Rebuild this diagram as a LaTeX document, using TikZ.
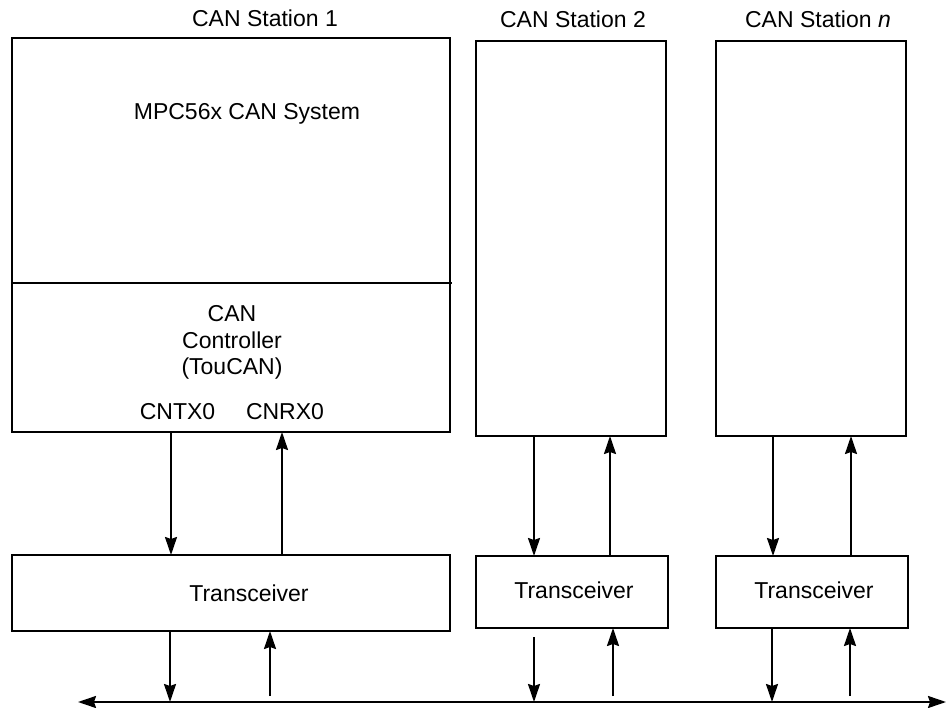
\documentclass[tikz,border=0pt]{standalone}
\usepackage{fontspec}
\setmainfont{Liberation Sans}
\usetikzlibrary{arrows.meta}
\begin{document}
\begin{tikzpicture}[x=1pt,y=-1pt,
  box/.style={draw, line width=2pt, rectangle, outer sep=0pt, inner sep=0pt, anchor=north west},
  lbl/.style={anchor=base, inner sep=0pt, font=\fontsize{23}{26.5}\selectfont},
  tip/.tip={Stealth[length=18pt,width=12pt,inset=2pt]},
  arr/.style={line width=2pt, -tip},
  busline/.style={line width=2pt, tip-tip},
  divline/.style={line width=2pt},
]
\useasboundingbox (0,0) rectangle (948,708);

% station boxes
\node[box, minimum width=438pt, minimum height=394pt] (s1) at (12,38) {};
\node[box, minimum width=190pt, minimum height=395pt] (s2) at (476,41) {};
\node[box, minimum width=190pt, minimum height=395pt] (sn) at (716,41) {};
% transceivers
\node[box, minimum width=438pt, minimum height=76pt] (t1) at (12,555) {};
\node[box, minimum width=192pt, minimum height=72pt] (t2) at (476,556) {};
\node[box, minimum width=192pt, minimum height=72pt] (tn) at (716,556) {};

% divider in station 1
\coordinate (divR) at (452,283);
\draw[divline] (s1.west |- divR) -- (divR);

% titles
\node[lbl] (title1) at (265,27) {CAN Station 1};
\node[lbl] (title2) at (573,28) {CAN Station 2};
\node[lbl] (titlen) at (818,28) {CAN Station \textit{n}};

% station 1 text
\node[lbl] (mpc) at (247,120) {MPC56x CAN System};
\node[lbl] (ctl) at (232,322) {\begin{tabular}[t]{@{}c@{}}CAN\\Controller\\(TouCAN)\end{tabular}};
\node[lbl] (cntx) at (177.5,420) {CNTX0};
\node[lbl] (cnrx) at (285,420) {CNRX0};

% transceiver text
\node[lbl] (tt1) at (249,601) {Transceiver};
\node[lbl] (tt2) at (574,598) {Transceiver};
\node[lbl] (ttn) at (814,598) {Transceiver};

% bus
\coordinate (busL) at (78,702);
\coordinate (busR) at (946,702);
\coordinate (bus) at (0,702);
\coordinate (busup) at (0,696);
\coordinate (gap2) at (534,637);
\draw[busline] (busL) -- (busR);

% station 1 arrows
\draw[arr] (s1.south -| 171,0) -- (t1.north -| 171,0);
\draw[arr] (t1.north -| 282,0) -- (s1.south -| 282,0);
\draw[arr] (t1.south -| 170,0) -- (bus -| 170,0);
\draw[arr] (busup -| 270,0) -- (t1.south -| 270,0);

% station 2 arrows
\draw[arr] (s2.south -| 534,0) -- (t2.north -| 534,0);
\draw[arr] (t2.north -| 610,0) -- (s2.south -| 610,0);
\draw[arr] (gap2) -- (bus -| gap2);
\draw[arr] (busup -| 613,0) -- (t2.south -| 613,0);

% station n arrows
\draw[arr] (sn.south -| 773,0) -- (tn.north -| 773,0);
\draw[arr] (tn.north -| 851,0) -- (sn.south -| 851,0);
\draw[arr] (tn.south -| 772,0) -- (bus -| 772,0);
\draw[arr] (busup -| 850,0) -- (tn.south -| 850,0);
\end{tikzpicture}
\end{document}
